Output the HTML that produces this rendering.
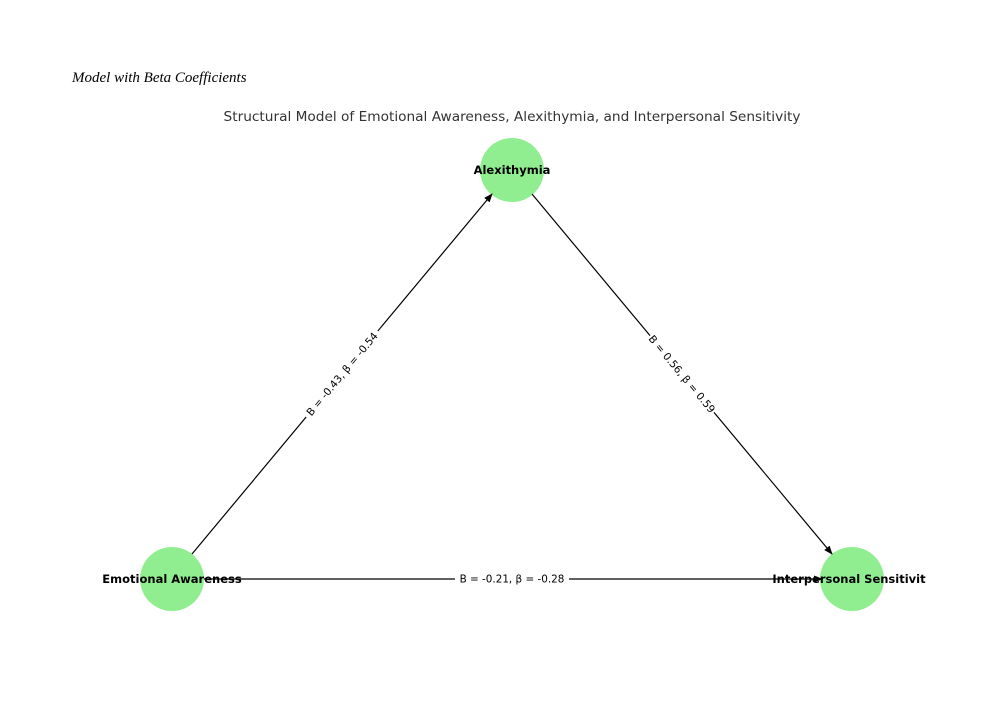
<!DOCTYPE html>
<html><head><meta charset="utf-8"><style>
html,body{margin:0;padding:0;background:#fff;}
svg{display:block;}
</style></head><body>
<svg width="987" height="715" viewBox="0 0 987 715" xmlns="http://www.w3.org/2000/svg">
<defs>
<marker id="ar" markerWidth="9" markerHeight="7" refX="8" refY="3.5" orient="auto" markerUnits="userSpaceOnUse">
<path d="M0,0 L9,3.5 L0,7 Z" fill="#000"/>
</marker>
</defs>
<rect width="987" height="715" fill="#fff"/>
<text x="72" y="82" font-family="Liberation Serif, serif" font-style="italic" font-size="15" fill="#000">Model with Beta Coefficients</text>
<text x="512" y="121" text-anchor="middle" font-family="DejaVu Sans, sans-serif" font-size="13.7" fill="#333">Structural Model of Emotional Awareness, Alexithymia, and Interpersonal Sensitivity</text>
<circle cx="512" cy="170" r="32" fill="#90ee90"/>
<circle cx="172" cy="579" r="32" fill="#90ee90"/>
<circle cx="852" cy="579" r="32" fill="#90ee90"/>
<line x1="192" y1="554" x2="492" y2="194" stroke="#000" stroke-width="1.2" marker-end="url(#ar)"/>
<line x1="532" y1="194" x2="832" y2="554" stroke="#000" stroke-width="1.2" marker-end="url(#ar)"/>
<line x1="204" y1="579" x2="822" y2="579" stroke="#000" stroke-width="1.2" marker-end="url(#ar)"/>
<g font-family="DejaVu Sans, sans-serif" font-size="10.4" fill="#000">
<g transform="translate(342,374) rotate(-50.2)">
<rect x="-56" y="-7" width="112" height="14" fill="#fff"/>
<text x="0" y="3.7" text-anchor="middle">B = -0.43, β = -0.54</text></g>
<g transform="translate(682,374) rotate(50.2)">
<rect x="-50" y="-7" width="100" height="14" fill="#fff"/>
<text x="0" y="3.7" text-anchor="middle">B = 0.56, β = 0.59</text></g>
<rect x="455" y="572" width="114" height="14" fill="#fff"/>
<text x="512" y="582.7" text-anchor="middle">B = -0.21, β = -0.28</text>
</g>
<g font-family="DejaVu Sans, sans-serif" font-size="11.5" font-weight="bold" fill="#000" text-anchor="middle">
<text x="512" y="174">Alexithymia</text>
<text x="172" y="583">Emotional Awareness</text>
<text x="849" y="583">Interpersonal Sensitivit</text>
</g>
</svg>
</body></html>
